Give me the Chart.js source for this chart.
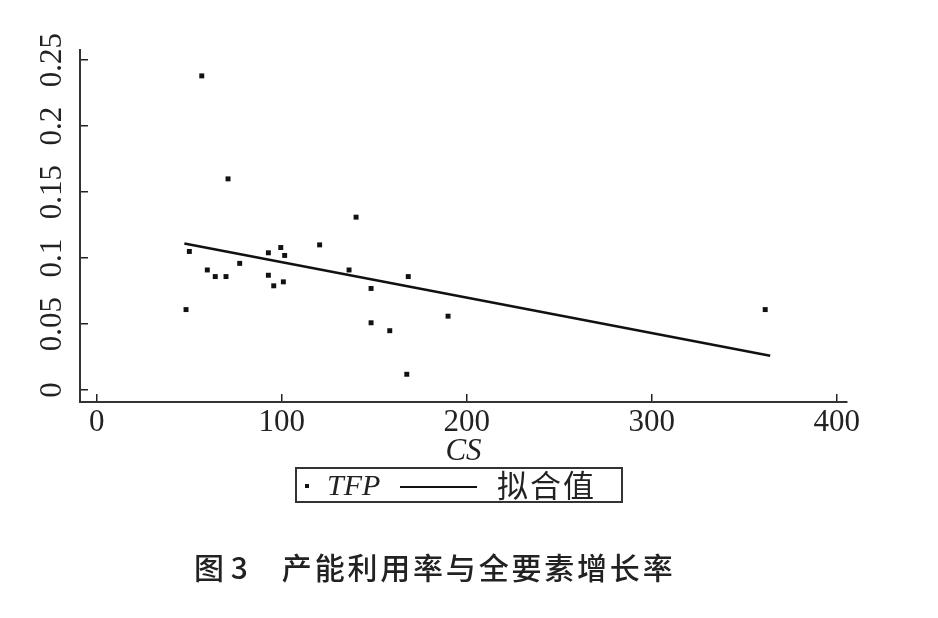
<!DOCTYPE html>
<html>
<head>
<meta charset="utf-8">
<script src="https://cdn.jsdelivr.net/npm/chart.js@4.4.0/dist/chart.umd.min.js"></script>
<style>
html,body{margin:0;padding:0;background:#fff;width:938px;height:618px;overflow:hidden;}
#wrap{position:absolute;left:0;top:0;width:938px;height:618px;}
#legend{position:absolute;left:295px;top:467px;width:324px;height:32px;border:2px solid #333;background:#fff;}
#legend .dot{position:absolute;left:8px;top:15px;width:4px;height:4px;background:#111;}
#legend .tfp{position:absolute;left:30px;top:-2px;font-family:"Liberation Serif",serif;font-style:italic;font-size:30px;line-height:36px;color:#222;}
#legend .ln{position:absolute;left:103px;top:17px;width:77px;height:2px;background:#111;}
#legend .fit{position:absolute;left:200px;top:-3px;font-family:"Noto Sans CJK SC",sans-serif;font-size:31px;line-height:36px;color:#222;letter-spacing:2px;}
#caption{position:absolute;left:194px;top:546px;font-family:"Noto Sans CJK SC",sans-serif;font-size:30px;line-height:40px;color:#222;font-weight:500;white-space:nowrap;}
#caption .rest{margin-left:34px;letter-spacing:2.8px;}
</style>
</head>
<body>
<div id="wrap"><canvas id="c" width="938" height="618"></canvas></div>
<div id="legend"><span class="dot"></span><span class="tfp">TFP</span><span class="ln"></span><span class="fit">拟合值</span></div>
<div id="caption"><span>图 3</span><span class="rest">产能利用率与全要素增长率</span></div>
<script>
// Data
const csValues  = [48.3, 50.1, 56.8, 59.8, 64.1, 69.9, 71.0, 77.3, 92.8, 92.8, 95.7, 99.5, 100.9, 101.6, 120.5, 136.4, 140.2, 148.3, 148.3, 158.4, 167.6, 168.4, 189.9, 361.3];
const tfpValues = [0.061, 0.105, 0.238, 0.091, 0.086, 0.086, 0.160, 0.096, 0.104, 0.087, 0.079, 0.108, 0.082, 0.102, 0.110, 0.091, 0.131, 0.077, 0.051, 0.045, 0.012, 0.086, 0.056, 0.061];
const fitX = [47.4, 364];
const fitY = [0.111, 0.026];
const xTickValues = [0, 100, 200, 300, 400];
const xTickLabels = ['0', '100', '200', '300', '400'];
const yTickValues = [0, 0.05, 0.1, 0.15, 0.2, 0.25];
const yTickLabels = ['0', '0.05', '0.1', '0.15', '0.2', '0.25'];
const xTitle = 'CS';
const seriesNames = ['TFP', '拟合值'];

const tickFont = {family: 'Liberation Serif', size: 31};

new Chart(document.getElementById('c').getContext('2d'), {
  type: 'scatter',
  data: {
    datasets: [
      {
        label: seriesNames[0],
        data: csValues.map((x, i) => ({x: x, y: tfpValues[i]})),
        pointStyle: 'rect',
        pointRadius: 3.5,
        backgroundColor: '#111',
        borderWidth: 0
      },
      {
        type: 'line',
        label: seriesNames[1],
        data: fitX.map((x, i) => ({x: x, y: fitY[i]})),
        borderColor: '#111',
        borderWidth: 2.5,
        pointRadius: 0,
        fill: false,
        showLine: true
      }
    ]
  },
  options: {
    responsive: false,
    animation: false,
    devicePixelRatio: 1,
    layout: {padding: {left: 20, right: 91, top: 50, bottom: 146}},
    plugins: {legend: {display: false}, tooltip: {enabled: false}},
    scales: {
      x: {
        type: 'linear',
        min: -9,
        max: 405.5,
        afterBuildTicks: s => { s.ticks = xTickValues.map(v => ({value: v})); },
        afterFit: s => { s.height = 70; },
        grid: {drawOnChartArea: false, drawTicks: true, tickLength: -8, color: '#222', lineWidth: 1.5},
        border: {display: true, color: '#333', width: 2},
        ticks: {font: tickFont, color: '#222', padding: 10, maxRotation: 0, minRotation: 0, autoSkip: false,
                callback: (v, i) => xTickLabels[i]},
        title: {display: true, text: xTitle, color: '#222',
                font: {family: 'Liberation Serif', size: 31, style: 'italic'}, padding: {top: 0, bottom: 2}}
      },
      y: {
        type: 'linear',
        min: -0.009,
        max: 0.2576,
        afterBuildTicks: s => { s.ticks = yTickValues.map(v => ({value: v})); },
        afterFit: s => { s.width = 60; },
        grid: {drawOnChartArea: false, drawTicks: true, tickLength: -8, color: '#222', lineWidth: 1.5},
        border: {display: true, color: '#333', width: 2},
        ticks: {font: tickFont, color: '#222', padding: 8.5, minRotation: 90, maxRotation: 90, crossAlign: 'center',
                autoSkip: false, callback: (v, i) => yTickLabels[i]}
      }
    }
  }
});
</script>
</body>
</html>
